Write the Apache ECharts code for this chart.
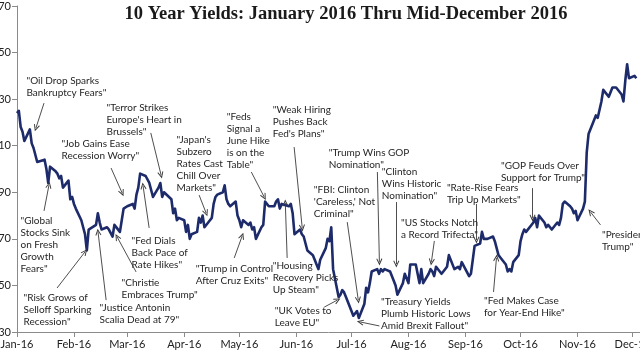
<!DOCTYPE html>
<html>
<head>
<meta charset="utf-8">
<style>
html,body{margin:0;padding:0;background:#fff;}
#chart{width:640px;height:360px;}
</style>
<script src="https://cdn.jsdelivr.net/npm/echarts@6/dist/echarts.min.js"></script>
</head>
<body>
<div id="chart"></div>
<script>
// ---- data: [day of month, 10-year yield %] per month of 2016 ----
const jan16 = [[4,2.24],[5,2.25],[6,2.18],[7,2.16],[8,2.12],[11,2.17],[12,2.11],[13,2.09],[14,2.09],[15,2.03],[19,2.04],[20,2.00],[21,1.94],[22,2.01],[25,1.99],[26,1.98],[27,1.96],[28,1.97],[29,1.92]];
const feb16 = [[1,1.95],[2,1.87],[3,1.88],[4,1.85],[5,1.83],[8,1.78],[9,1.75],[10,1.72],[11,1.65],[12,1.74],[16,1.76],[17,1.81],[18,1.77],[19,1.74],[22,1.75],[23,1.74],[24,1.74],[25,1.71],[26,1.76],[29,1.73]];
const mar16 = [[1,1.78],[2,1.83],[3,1.83],[4,1.84],[7,1.85],[8,1.83],[9,1.89],[10,1.92],[11,1.98],[14,1.97],[15,1.97],[16,1.94],[17,1.91],[18,1.88],[21,1.92],[22,1.94],[23,1.88],[24,1.90],[28,1.87],[29,1.81],[30,1.83],[31,1.78]];
const apr16 = [[1,1.79],[4,1.78],[5,1.73],[6,1.76],[7,1.70],[8,1.72],[11,1.73],[12,1.79],[13,1.77],[14,1.80],[15,1.75],[18,1.78],[19,1.79],[20,1.85],[21,1.88],[22,1.89],[25,1.90],[26,1.93],[27,1.87],[28,1.85],[29,1.84]];
const may16 = [[2,1.86],[3,1.80],[4,1.78],[5,1.75],[6,1.78],[9,1.76],[10,1.77],[11,1.74],[12,1.75],[13,1.70],[16,1.75],[17,1.76],[18,1.86],[19,1.86],[20,1.84],[23,1.84],[24,1.86],[25,1.87],[26,1.83],[27,1.85],[31,1.84]];
const jun16 = [[1,1.85],[2,1.81],[3,1.72],[6,1.74],[7,1.72],[8,1.71],[9,1.68],[10,1.65],[13,1.63],[14,1.61],[15,1.59],[16,1.57],[17,1.61],[20,1.66],[21,1.70],[22,1.69],[23,1.75],[24,1.57],[27,1.45],[28,1.46],[29,1.48],[30,1.47]];
const jul16 = [[1,1.45],[5,1.37],[6,1.37],[7,1.39],[8,1.36],[11,1.42],[12,1.49],[13,1.47],[14,1.51],[15,1.56],[18,1.57],[19,1.55],[20,1.57],[21,1.56],[22,1.57],[25,1.56],[26,1.56],[27,1.52],[28,1.50],[29,1.46]];
const aug16 = [[1,1.51],[2,1.55],[3,1.55],[4,1.51],[5,1.59],[8,1.59],[9,1.55],[10,1.51],[11,1.57],[12,1.51],[15,1.55],[16,1.57],[17,1.56],[18,1.54],[19,1.58],[22,1.55],[23,1.56],[24,1.56],[25,1.58],[26,1.63],[29,1.57],[30,1.57],[31,1.58]];
const sep16 = [[1,1.57],[2,1.60],[6,1.54],[7,1.55],[8,1.61],[9,1.67],[12,1.68],[13,1.73],[14,1.70],[15,1.70],[16,1.70],[19,1.71],[20,1.69],[21,1.66],[22,1.63],[23,1.62],[26,1.59],[27,1.56],[28,1.57],[29,1.56],[30,1.60]];
const oct16 = [[3,1.63],[4,1.69],[5,1.72],[6,1.74],[7,1.73],[11,1.77],[12,1.79],[13,1.75],[14,1.80],[17,1.77],[18,1.75],[19,1.76],[20,1.76],[21,1.74],[24,1.77],[25,1.76],[26,1.79],[27,1.85],[28,1.86],[31,1.84]];
const nov16 = [[1,1.83],[2,1.81],[3,1.82],[4,1.78],[7,1.83],[8,1.86],[9,2.07],[10,2.15],[14,2.23],[15,2.22],[16,2.22],[17,2.29],[18,2.34],[21,2.31],[22,2.31],[23,2.35],[25,2.35],[28,2.32],[29,2.29],[30,2.38]];
const dec16 = [[1,2.45],[2,2.39],[5,2.40],[6,2.39]];
const months = [jan16,feb16,mar16,apr16,may16,jun16,jul16,aug16,sep16,oct16,nov16,dec16];

// axis ticks
const xTickDays = ['2016-01-04','2016-02-04','2016-03-04','2016-04-04','2016-05-04','2016-06-04','2016-07-04','2016-08-04','2016-09-04','2016-10-04','2016-11-04','2016-12-04'];
const xTickLabels = ['Jan-16','Feb-16','Mar-16','Apr-16','May-16','Jun-16','Jul-16','Aug-16','Sep-16','Oct-16','Nov-16','Dec-16'];
const yTicks = [1.30,1.50,1.70,1.90,2.10,2.30,2.50,2.70];

// annotations: text, text anchor [days after Jan 4, yield], arrow from/to [days after Jan 4, yield]
const notes = [
  {t:'"Oil Drop Sparks\nBankruptcy Fears"', at:[5.4,2.404], from:[14.7,2.283], to:[10.3,2.176]},
  {t:'"Terror Strikes\nEurope\'s Heart in\nBrussels"', at:[49.0,2.288], from:[72.8,2.155], to:[78.4,1.974]},
  {t:'"Job Gains Ease\nRecession Worry"', at:[24.5,2.133], from:[51.2,2.004], to:[57.2,1.897]},
  {t:'"Japan\'s\nSubzero\nRates Cast\nChill Over\nMarkets"', at:[87.1,2.150], from:[99.1,1.888], to:[102.9,1.811]},
  {t:'"Feds\nSignal a\nJune Hike\nis on the\nTable"', at:[114.4,2.247], from:[127.5,1.987], to:[134.5,1.880]},
  {t:'"Weak Hiring\nPushes Back\nFed\'s Plans"', at:[139.4,2.279], from:[150.8,2.094], to:[155.2,1.747]},
  {t:'"Trump Wins GOP\nNomination"', at:[169.9,2.092], from:[196.1,1.987], to:[197.2,1.601]},
  {t:'"Clinton\nWins Historic\nNomination"', at:[198.8,2.013], from:[206.4,1.858], to:[206.4,1.592]},
  {t:'"FBI: Clinton\n\'Careless,\' Not\nCriminal"', at:[161.8,1.936], from:[179.7,1.772], to:[185.7,1.437]},
  {t:'"Global\nStocks Sink\non Fresh\nGrowth\nFears"', at:[2.2,1.800], from:[14.7,1.820], to:[17.4,1.931]},
  {t:'"Risk Grows of\nSelloff Sparking\nRecession"', at:[3.8,1.470], from:[21.8,1.489], to:[37.0,1.644]},
  {t:'"Justice Antonin\nScalia Dead at 79"', at:[45.2,1.427], from:[48.5,1.437], to:[44.1,1.729]},
  {t:'"Christie\nEmbraces Trump"', at:[57.2,1.535], from:[64.8,1.558], to:[54.5,1.708]},
  {t:'"Fed Dials\nBack Pace of\nRate Hikes"', at:[62.6,1.717], from:[71.9,1.747], to:[68.6,1.927]},
  {t:'"Trump in Control\nAfter Cruz Exits"', at:[97.5,1.595], from:[118.2,1.618], to:[122.5,1.712]},
  {t:'"Housing\nRecovery Picks\nUp Steam"', at:[139.4,1.609], from:[147.0,1.618], to:[146.0,1.854]},
  {t:'"UK Votes to\nLeave EU"', at:[140.5,1.413], from:[167.2,1.407], to:[174.3,1.437]},
  {t:'"Treasury Yields\nPlumb Historic Lows\nAmid Brexit Fallout"', at:[198.3,1.453], from:[197.2,1.326], to:[186.8,1.343]},
  {t:'"US Stocks Notch\na Record Trifecta"', at:[209.2,1.793], from:[227.1,1.691], to:[225.5,1.601]},
  {t:'"Rate-Rise Fears\nTrip Up Markets"', at:[234.2,1.943], from:[250.0,1.850], to:[250.0,1.695]},
  {t:'"GOP Feuds Over\nSupport for Trump"', at:[263.6,2.036], from:[280.5,1.918], to:[280.5,1.790]},
  {t:'"Fed Makes Case\nfor Year-End Hike"', at:[254.4,1.456], from:[259.3,1.472], to:[260.9,1.618]},
  {t:'"President\nTrump"', at:[318.6,1.742], from:[317.5,1.760], to:[312.1,1.815]}
];
const titleText = '10 Year Yields: January 2016 Thru Mid-December 2016';

// ---- build ----
const DAY = 86400000;
const t0 = new Date(2016,0,4).getTime();
const toT = s => { const p = s.split('-'); return new Date(+p[0], +p[1]-1, +p[2]).getTime(); };
const seriesData = [];
months.forEach((arr, m) => arr.forEach(([d, v]) => seriesData.push([new Date(2016, m, d).getTime(), v])));
const xTicks = xTickDays.map(toT);
const dx = d => t0 + d * DAY;

const chevron = 'path://M5,0L10,9L8.7,9.8L5,3.2L1.3,9.8L0,9Z';
const font = 'Lato, "Liberation Sans", sans-serif';

const chart = echarts.init(document.getElementById('chart'), null, {renderer:'canvas'});
chart.setOption({
  animation: false,
  backgroundColor: '#fff',
  grid: {left: 17, right: 0, top: 6, bottom: 28, containLabel: false, outerBoundsMode: 'none'},
  graphic: [{
    type: 'text', x: 346, y: 14,
    style: {text: titleText, font: 'bold 18.5px "Liberation Serif", serif', fill: '#1a1a1a',
      align: 'center', verticalAlign: 'middle'}
  }],
  xAxis: {
    type: 'value',
    min: t0, max: new Date(2016,11,8).getTime(),
    axisLine: {show: true, onZero: false, lineStyle: {color: '#8a8a8a', width: 1}},
    axisTick: {show: true, customValues: xTicks, length: 5, lineStyle: {color: '#8a8a8a'}},
    axisLabel: {customValues: xTicks, fontSize: 11, fontFamily: font, color: '#222', margin: 7,
      formatter: v => xTickLabels[new Date(v).getMonth()]},
    splitLine: {show: false}
  },
  yAxis: {
    type: 'value', min: 1.3, max: 2.7,
    axisLine: {show: true, onZero: false, lineStyle: {color: '#8a8a8a', width: 1}},
    axisTick: {show: true, customValues: yTicks, length: 5, lineStyle: {color: '#8a8a8a'}},
    axisLabel: {customValues: yTicks, fontSize: 11, fontFamily: font, color: '#222', margin: 6,
      formatter: v => v.toFixed(2)},
    splitLine: {show: false}
  },
  series: [{
    type: 'line',
    data: seriesData,
    showSymbol: false,
    symbol: 'none',
    lineStyle: {color: '#1d2b6b', width: 2.6, join: 'round'},
    itemStyle: {color: '#1d2b6b'},
    emphasis: {disabled: true},
    markLine: {
      silent: true,
      symbol: ['none', chevron],
      symbolSize: [6, 7],
      lineStyle: {color: '#3a3a3a', width: 0.9, type: 'solid'},
      label: {show: false},
      emphasis: {disabled: true},
      data: notes.map(n => [{coord: [dx(n.from[0]), n.from[1]]}, {coord: [dx(n.to[0]), n.to[1]]}])
    },
    markPoint: {
      silent: true,
      symbol: 'rect', symbolSize: 1,
      itemStyle: {color: 'rgba(0,0,0,0)'},
      emphasis: {disabled: true},
      label: {show: true, position: [0, 0], align: 'left', verticalAlign: 'top',
        fontSize: 10, lineHeight: 12, fontFamily: font, color: '#262626'},
      data: notes.map(n => ({coord: [dx(n.at[0]), n.at[1]], value: 0, label: {formatter: n.t}}))
    }
  }]
});
</script>
</body>
</html>
